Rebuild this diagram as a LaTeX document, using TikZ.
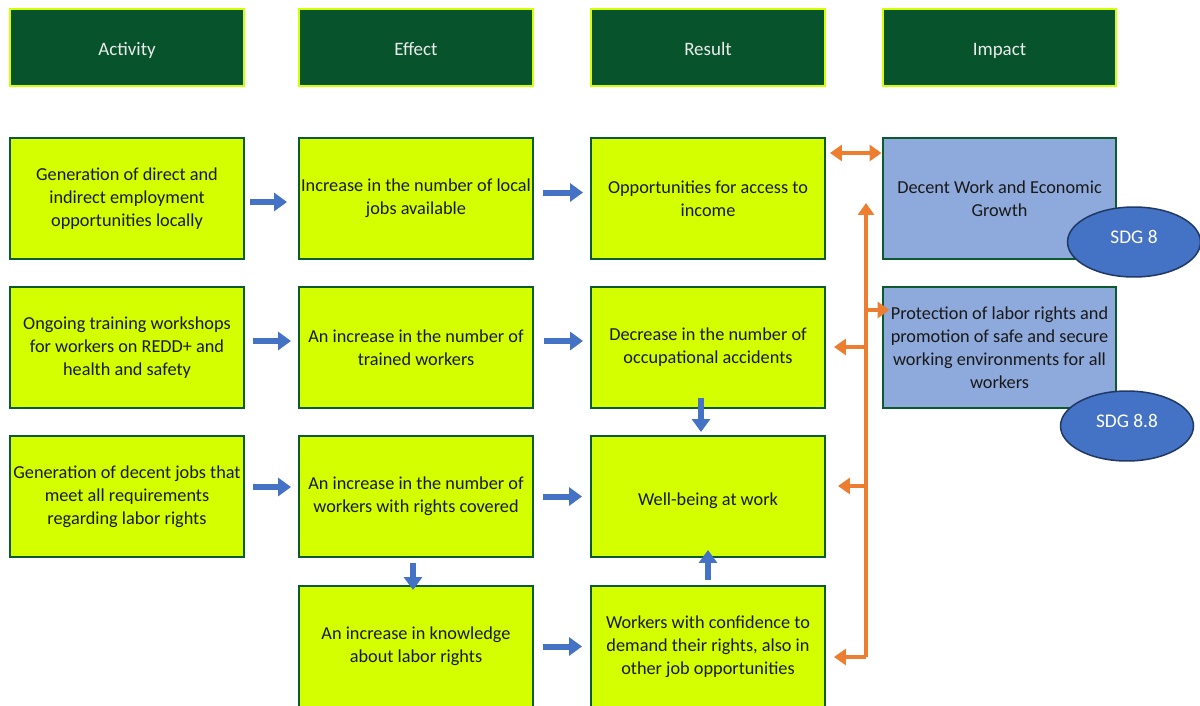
\documentclass[tikz,border=0pt]{standalone}
\usepackage{fontspec}
\setmainfont{Carlito}
\usetikzlibrary{arrows.meta,calc,shapes.geometric}
\definecolor{hdrgreen}{HTML}{07532C}
\definecolor{limebox}{HTML}{D4FF00}
\definecolor{edgegreen}{HTML}{0B5B2E}
\definecolor{impblue}{HTML}{8EA9DB}
\definecolor{sdgblue}{HTML}{4472C4}
\definecolor{sdgedge}{HTML}{1F3864}
\definecolor{arrblue}{HTML}{4472C4}
\definecolor{arrorange}{HTML}{ED7D31}
\newcommand{\boxfont}{\fontsize{10.4}{13.1}\selectfont}

\begin{document}
\begin{tikzpicture}[x=0.02cm,y=-0.02cm,
  hdr/.style={draw=limebox,line width=0.04cm,fill=hdrgreen,text=white!92!black,
    minimum width=4.68cm,minimum height=1.54cm,font=\fontsize{10.8}{13}\selectfont,
    text height=2ex,text depth=0.2ex},
  stage/.style={draw=edgegreen,line width=0.04cm,fill=limebox,text=black!90,
    minimum width=4.68cm,inner xsep=0pt,minimum height=2.42cm,align=center,font=\boxfont,
    execute at begin node={\rule{0pt}{12pt}}},
  goal/.style={stage,fill=impblue},
  sdg/.style={ellipse,draw=sdgedge,line width=0.03cm,fill=sdgblue,text=white,
    minimum width=2.66cm,minimum height=1.4cm,inner sep=0pt,font=\fontsize{11}{12}\selectfont,
    text height=7pt,text depth=5.6pt},
  barrow/.style={draw=arrblue,line width=0.12cm,-{Triangle[width=0.36cm,length=0.26cm]}},
  oline/.style={draw=arrorange,line width=0.08cm},
  oarrow/.style={oline,-{Triangle[width=0.32cm,length=0.24cm]}}]
  \useasboundingbox[fill=white] (0,0) rectangle (1200,706);

  \node[hdr] (hact) at (127,47.5) {Activity};
  \node[hdr] (heff) at (416,47.5) {Effect};
  \node[hdr] (hres) at (708,47.5) {Result};
  \node[hdr] (himp) at (999.5,47.5) {Impact};

  \node[stage] (a1) at (127,198.5) {Generation of direct and\\indirect employment\\opportunities locally};
  \node[stage] (e1) at (416,198.5) {Increase in the number of local\\jobs available};
  \node[stage] (r1) at (708,198.5) {Opportunities for access to\\income};
  \node[goal]  (i1) at (999.5,198.5) {Decent Work and Economic\\Growth};

  \node[stage] (a2) at (127,347.5) {Ongoing training workshops\\for workers on REDD+ and\\health and safety};
  \node[stage] (e2) at (416,347.5) {An increase in the number of\\trained workers};
  \node[stage] (r2) at (708,347.5) {Decrease in the number of\\occupational accidents};
  \node[goal]  (i2) at (999.5,347.5) {Protection of labor rights and\\promotion of safe and secure\\working environments for all\\workers};

  \node[stage] (a3) at (127,496.5) {Generation of decent jobs that\\meet all requirements\\regarding labor rights};
  \node[stage] (e3) at (416,496.5) {An increase in the number of\\workers with rights covered};
  \node[stage] (r3) at (708,496.5) {Well-being at work};

  \node[stage] (e4) at (416,646.5) {An increase in knowledge\\about labor rights};
  \node[stage] (r4) at (708,646.5) {Workers with confidence to\\demand their rights, also in\\other job opportunities};

  \node[sdg] (s8)  at (1134,242) {SDG 8};
  \node[sdg] (s88) at (1127,426) {SDG 8.8};

  \draw[barrow,shorten <=0.1cm,shorten >=0.22cm] ($(a1.east)+(0,3.5)$) -- ($(e1.west)+(0,3.5)$);
  \draw[barrow,shorten <=0.18cm,shorten >=0.14cm] ($(e1.east)+(0,-6)$) -- ($(r1.west)+(0,-6)$);
  \draw[barrow,shorten <=0.16cm,shorten >=0.14cm] ($(a2.east)+(0,-6.5)$) -- ($(e2.west)+(0,-6.5)$);
  \draw[barrow,shorten <=0.2cm,shorten >=0.14cm] ($(e2.east)+(0,-6.5)$) -- ($(r2.west)+(0,-6.5)$);
  \draw[barrow,shorten <=0.16cm,shorten >=0.14cm] ($(a3.east)+(0,-9.5)$) -- ($(e3.west)+(0,-9.5)$);
  \draw[barrow,shorten <=0.18cm,shorten >=0.16cm] (e3.east) -- (r3.west);
  \draw[barrow,shorten <=0.18cm,shorten >=0.16cm] (e4.east) -- (r4.west);
  \draw[barrow,shorten <=0.1cm,shorten >=-0.1cm] ($(e3.south)+(-3,0)$) -- ($(e4.north)+(-3,0)$);
  \draw[barrow,shorten <=0.1cm,shorten >=-0.16cm] (r4.north) -- (r3.south);
  \draw[barrow,shorten <=-0.22cm,shorten >=0.06cm] ($(r2.south)+(-7,0)$) -- ($(r3.north)+(-7,0)$);

  \coordinate (top) at (866,203);
  \coordinate (bot) at (866,657);
  \coordinate (c2) at (866,310);
  \coordinate (c3) at (866,347);
  \coordinate (c4) at (866,486);
  \draw[oarrow] (bot) -- (top);
  \draw[oarrow,shorten >=0.16cm] (bot) -- (r4.east |- bot);
  \draw[oarrow,shorten >=0.24cm] (c4) -- (r3.east |- c4);
  \draw[oarrow,shorten >=0.16cm] (c3) -- (r2.east |- c3);
  \draw[oarrow,shorten >=-0.16cm] (c2) -- (i2.west |- c2);
  \draw[oarrow,<->,>={Triangle[width=0.32cm,length=0.24cm]},shorten <=0.08cm] ($(r1.east)+(0,-45.5)$) -- ($(i1.west)+(0,-45.5)$);
\end{tikzpicture}
\end{document}
